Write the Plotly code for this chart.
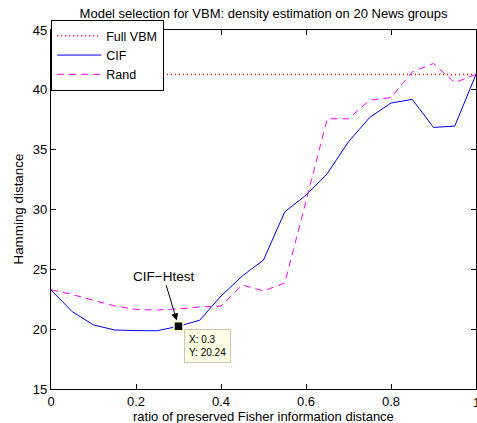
import plotly.graph_objects as go

ratio = [0, 0.05, 0.1, 0.15, 0.2, 0.25, 0.3, 0.35, 0.4, 0.45, 0.5,
         0.55, 0.6, 0.65, 0.7, 0.75, 0.8, 0.85, 0.9, 0.95, 1.0]
cif = [23.27, 21.46, 20.35, 19.93, 19.88, 19.87, 20.24, 20.75, 22.77, 24.44, 25.78,
       29.8, 31.2, 33.0, 35.66, 37.7, 38.9, 39.2, 36.86, 36.97, 41.29]
rand = [23.3, 22.9, 22.4, 21.95, 21.65, 21.6, 21.7, 21.85, 21.93, 23.69, 23.2,
        23.85, 30.7, 37.58, 37.58, 39.14, 39.35, 41.5, 42.2, 40.6, 41.29]
full_vbm = 41.29
tip_x, tip_y = 0.3, 20.24
x_ticks = [0, 0.2, 0.4, 0.6, 0.8, 1]
x_ticklabels = ["0", "0.2", "0.4", "0.6", "0.8", "1"]
y_ticks = [15, 20, 25, 30, 35, 40, 45]

FONT = "Liberation Sans, Arial, sans-serif"

fig = go.Figure()
fig.add_trace(go.Scatter(x=[ratio[0], ratio[-1]], y=[full_vbm, full_vbm], mode="lines",
                         name="Full VBM", line=dict(color="#ff0000", width=1.5, dash="1px,3px")))
fig.add_trace(go.Scatter(x=ratio, y=cif, mode="lines", name="CIF",
                         line=dict(color="#0000ff", width=1)))
fig.add_trace(go.Scatter(x=ratio, y=rand, mode="lines", name="Rand",
                         line=dict(color="#ff00ff", width=1, dash="7px,5px")))
fig.add_trace(go.Scatter(x=[tip_x], y=[tip_y], mode="markers", showlegend=False,
                         marker=dict(symbol="square", size=9, color="black",
                                     line=dict(color="#ffffcc", width=1.5))))

fig.add_annotation(x=tip_x, y=tip_y, text="CIF\u2212Htest", showarrow=True,
                   ax=-15, ay=-50, arrowhead=2, arrowsize=1.4, arrowwidth=1,
                   arrowcolor="black", standoff=6,
                   font=dict(family=FONT, size=13.5, color="black"))
fig.add_annotation(x=tip_x, y=tip_y, text="X: 0.3<br>Y: 20.24", showarrow=False,
                   xanchor="left", yanchor="top", xshift=5, yshift=-3, align="left",
                   bgcolor="#ffffe6", bordercolor="#c8c8b4", borderwidth=1, borderpad=4,
                   font=dict(family=FONT, size=10, color="black"))

axis_common = dict(showline=True, linecolor="black", linewidth=1.2, mirror="ticks",
                   ticks="inside", ticklen=5, tickcolor="black", showgrid=False,
                   zeroline=False, automargin=False,
                   tickfont=dict(family=FONT, size=13, color="black"))

fig.update_xaxes(range=[0, 1], tickvals=x_ticks, ticktext=x_ticklabels, **axis_common)
fig.update_yaxes(range=[15, 45], tickvals=y_ticks, **axis_common)

# last x tick label (partly outside the window, as in the reference)
fig.add_annotation(x=x_ticks[-1], xref="x", yref="paper", y=0, yanchor="top", yshift=-4,
                   text=x_ticklabels[-1], showarrow=False,
                   font=dict(family=FONT, size=13, color="black"))

# axis titles as paper annotations for precise placement
fig.add_annotation(xref="paper", yref="paper", x=0.5, y=-27 / 359, yanchor="middle",
                   text="ratio of preserved Fisher information distance", showarrow=False,
                   font=dict(family=FONT, size=13, color="black"))
fig.add_annotation(xref="paper", yref="paper", x=-33 / 425, y=0.5, xanchor="center",
                   text="Hamming distance", textangle=-90, showarrow=False,
                   font=dict(family=FONT, size=13.4, color="black"))

fig.update_layout(
    width=477, height=423,
    margin=dict(l=51, r=1, t=30, b=34),
    paper_bgcolor="white", plot_bgcolor="white",
    title=dict(text="Model selection for VBM: density estimation on 20 News groups",
               x=263.5 / 477, xanchor="center",
               y=1 - 13 / 423, yanchor="middle",
               font=dict(family=FONT, size=13, color="black")),
    legend=dict(x=0, y=1 + 10 / 359, xanchor="left", yanchor="top", bgcolor="white",
                bordercolor="black", borderwidth=1.2,
                font=dict(family=FONT, size=12.5, color="black"),
                tracegroupgap=0, itemwidth=44),
    showlegend=True,
)

fig.write_html("out.html", config={"displayModeBar": False},
               post_script="document.body.style.margin='0';document.body.style.overflow='hidden';")
